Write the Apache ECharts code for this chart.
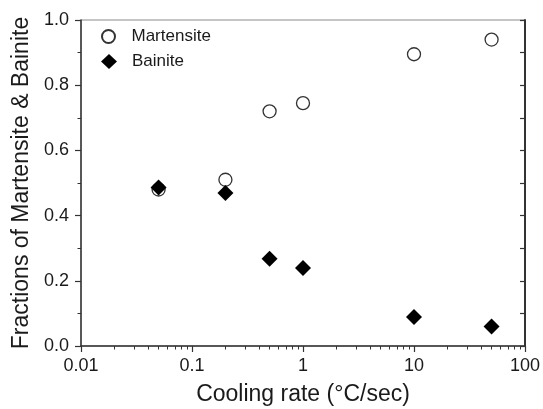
<!DOCTYPE html>
<html>
<head>
<meta charset="utf-8">
<script src="https://cdn.jsdelivr.net/npm/echarts@6/dist/echarts.min.js"></script>
<style>
html,body{margin:0;padding:0;background:#fff;}
#chart{width:543px;height:409px;}
</style>
</head>
<body>
<div id="chart"></div>
<script>
// Data
var coolingRates = [0.05, 0.2, 0.5, 1, 10, 50];
var martensite = [0.48, 0.51, 0.72, 0.745, 0.895, 0.94];
var bainite = [0.486, 0.469, 0.268, 0.239, 0.089, 0.060];
var seriesNames = ['Martensite', 'Bainite'];
var xTitle = 'Cooling rate (\u00B0C/sec)';
var yTitle = 'Fractions of Martensite & Bainite';

function pairs(xs, ys) {
  return xs.map(function (x, i) { return [x, ys[i]]; });
}

var FONT = '"Liberation Sans", Arial, sans-serif';
var TXT = '#1a1a1a';
var AX = '#333333';
var DIAMOND = 'path://M8,0 L16,7.5 L8,15 L0,7.5 Z';

var chart = echarts.init(document.getElementById('chart'), null, { renderer: 'canvas' });
chart.setOption({
  animation: false,
  backgroundColor: '#ffffff',
  textStyle: { fontFamily: FONT },
  grid: {
    left: 81, right: 18, top: 20, bottom: 63,
    outerBoundsMode: 'none', containLabel: false,
    show: true, borderColor: '#8a8a8a', borderWidth: 1, backgroundColor: 'transparent'
  },
  legend: [{
    orient: 'vertical',
    left: 96, top: 23,
    itemWidth: 36, itemHeight: 13,
    textStyle: { fontFamily: FONT, fontSize: 17, color: TXT },
    data: [seriesNames[0]]
  }, {
    orient: 'vertical',
    left: 96, top: 48,
    itemWidth: 36, itemHeight: 15,
    symbolKeepAspect: true,
    textStyle: { fontFamily: FONT, fontSize: 17, color: TXT },
    data: [{ name: seriesNames[1], icon: DIAMOND }]
  }],
  xAxis: [{
    type: 'log', logBase: 10, min: 0.01, max: 100,
    name: xTitle, nameLocation: 'middle', nameGap: 37,
    nameTextStyle: { fontFamily: FONT, fontSize: 23, color: TXT },
    axisLine: { show: true, onZero: false, lineStyle: { color: AX, width: 1.5 } },
    axisTick: { show: true, inside: false, length: 6, lineStyle: { color: AX, width: 1.2 } },
    minorTick: { show: true, splitNumber: 9, length: 3.5, lineStyle: { color: AX, width: 1 } },
    axisLabel: {
      fontFamily: FONT, fontSize: 18, color: TXT, margin: 11,
      formatter: function (v) { return String(+v.toPrecision(6)); }
    },
    splitLine: { show: false },
    minorSplitLine: { show: false }
  }],
  yAxis: [{
    type: 'value', min: 0, max: 1, interval: 0.2, position: 'left',
    name: yTitle, nameLocation: 'middle', nameGap: 38, nameRotate: 90,
    nameTextStyle: { fontFamily: FONT, fontSize: 23, color: TXT },
    axisLine: { show: true, onZero: false, lineStyle: { color: AX, width: 1.5 } },
    axisTick: { show: true, inside: false, length: 6, lineStyle: { color: AX, width: 1.2 } },
    minorTick: { show: true, splitNumber: 2, length: 3.5, lineStyle: { color: AX, width: 1 } },
    axisLabel: {
      fontFamily: FONT, fontSize: 18, color: TXT, margin: 12,
      formatter: function (v) { return v.toFixed(1); }
    },
    splitLine: { show: false }
  }, {
    type: 'value', min: 0, max: 1, interval: 0.1, position: 'right',
    axisLine: { show: true, onZero: false, lineStyle: { color: AX, width: 2 } },
    axisTick: { show: true, inside: true, length: 5, lineStyle: { color: AX, width: 1.2 } },
    axisLabel: { show: false },
    splitLine: { show: false }
  }],
  series: [{
    name: seriesNames[0],
    type: 'scatter',
    xAxisIndex: 0, yAxisIndex: 0,
    symbol: 'circle', symbolSize: 13,
    itemStyle: { color: '#ffffff', borderColor: '#333333', borderWidth: 1.3, opacity: 1 },
    data: pairs(coolingRates, martensite),
    z: 3
  }, {
    name: seriesNames[1],
    type: 'scatter',
    xAxisIndex: 0, yAxisIndex: 0,
    symbol: 'diamond', symbolSize: [16, 16],
    itemStyle: { color: '#000000', opacity: 1 },
    data: pairs(coolingRates, bainite),
    z: 4
  }]
});
</script>
</body>
</html>
